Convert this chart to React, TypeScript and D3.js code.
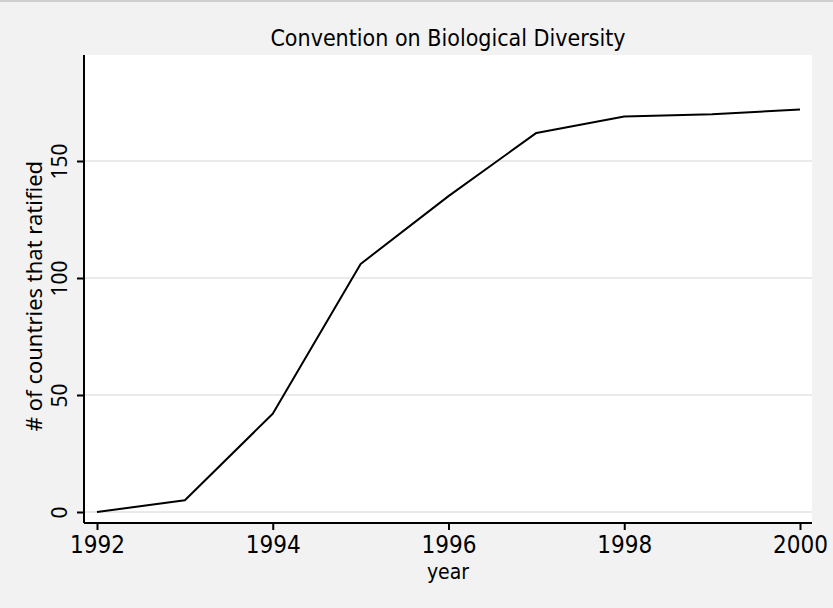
import React, { useEffect, useRef } from 'react';
import * as d3 from 'd3';

const years = [1992, 1993, 1994, 1995, 1996, 1997, 1998, 1999, 2000];
const ratified = [0, 5, 42, 106, 135, 162, 169, 170, 172];
const xTicks = [1992, 1994, 1996, 1998, 2000];
const yTicks = [0, 50, 100, 150];

const W = 833;
const H = 608;
const narrow = '"Liberation Sans Narrow", "DejaVu Sans Condensed", sans-serif';
const wide = '"Noto Sans", "Open Sans", sans-serif';

export default function App() {
  const svgRef = useRef<SVGSVGElement>(null);

  useEffect(() => {
    document.body.style.margin = '0';
    if (!svgRef.current) return;
    const svg = d3.select(svgRef.current);
    svg.selectAll('*').remove();

    const left = 84, right = 812, top = 55, bottom = 523;

    const x = d3.scaleLinear().domain([1992, 2000]).range([97, 800]);
    const y = d3.scaleLinear().domain([0, 150]).range([512, 161]);

    svg.append('rect').attr('width', W).attr('height', H).attr('fill', '#f2f2f2');
    svg.append('line').attr('x1', 0).attr('x2', W).attr('y1', 1).attr('y2', 1)
      .attr('stroke', '#cfcfcf').attr('stroke-width', 2);

    svg.append('rect')
      .attr('x', left).attr('y', top)
      .attr('width', right - left).attr('height', bottom - top)
      .attr('fill', '#fff');

    // gridlines
    svg.append('g').selectAll('line').data(yTicks).join('line')
      .attr('x1', left).attr('x2', right)
      .attr('y1', d => y(d)).attr('y2', d => y(d))
      .attr('stroke', '#eaeaea').attr('stroke-width', 2);

    // line
    const line = d3.line<number>()
      .x((_, i) => x(years[i]))
      .y(d => y(d));
    svg.append('path')
      .datum(ratified)
      .attr('fill', 'none')
      .attr('stroke', '#000')
      .attr('stroke-width', 2)
      .attr('stroke-linejoin', 'round')
      .attr('d', line);

    // y axis
    const yAxis = svg.append('g').attr('transform', `translate(${left},0)`)
      .call(d3.axisLeft(y).tickValues(yTicks).tickSize(7).tickPadding(0).tickFormat(d3.format('d')));
    yAxis.select('.domain').attr('d', `M0,${top}V${bottom}`).attr('stroke-width', 2);
    yAxis.selectAll('.tick line').attr('stroke-width', 2);
    yAxis.selectAll('.tick text')
      .attr('transform', 'rotate(-90)')
      .attr('x', 0).attr('y', -17)
      .attr('text-anchor', 'middle')
      .attr('dy', 0)
      .style('font-family', wide).style('font-size', '21px').attr('fill', '#000');

    // x axis
    const xAxis = svg.append('g').attr('transform', `translate(0,${bottom})`)
      .call(d3.axisBottom(x).tickValues(xTicks).tickSize(7).tickPadding(6).tickFormat(d3.format('d')));
    xAxis.select('.domain').attr('d', `M${left},0H${right}`).attr('stroke-width', 2);
    xAxis.selectAll('.tick line').attr('stroke-width', 2);
    xAxis.selectAll('.tick text')
      .style('font-family', narrow).style('font-size', '24px').attr('fill', '#000');

    svg.append('text')
      .attr('x', (left + right) / 2).attr('y', 46)
      .attr('text-anchor', 'middle')
      .style('font-family', narrow).style('font-size', '23px')
      .text('Convention on Biological Diversity');

    svg.append('text')
      .attr('x', (left + right) / 2).attr('y', 579)
      .attr('text-anchor', 'middle')
      .style('font-family', narrow).style('font-size', '21px')
      .text('year');

    svg.append('text')
      .attr('transform', `translate(42,${(top + bottom) / 2 + 7}) rotate(-90)`)
      .attr('text-anchor', 'middle')
      .style('font-family', wide).style('font-size', '22px')
      .text('# of countries that ratified');
  }, []);

  return <svg ref={svgRef} width={W} height={H} style={{ display: 'block' }} />;
}
